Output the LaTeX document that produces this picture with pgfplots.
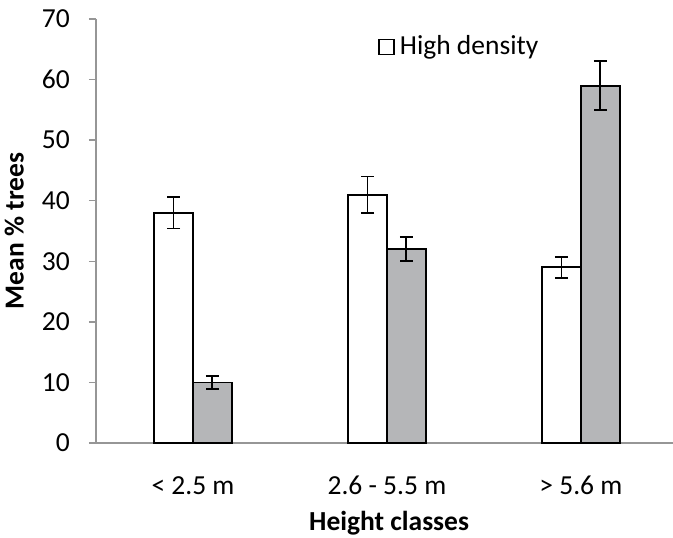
\documentclass[border=0pt]{standalone}
\usepackage{fontspec}
\setmainfont{Carlito}
\usepackage{pgfplots}
\pgfplotsset{compat=1.18}
\definecolor{axgray}{RGB}{150,150,150}
\definecolor{bargray}{RGB}{181,182,184}
\begin{document}
\fontsize{27.5}{33}\selectfont
\begin{tikzpicture}
\begin{axis}[
 scale only axis, width=577pt, height=424pt,
 xmin=-0.5, xmax=2.475, ymin=0, ymax=70,
 axis x line*=bottom, axis y line*=left,
 axis line style={axgray, line width=1.5pt, -},
 ytick={0,10,...,70}, xtick={0,1,2},
 xticklabels={{< 2.5 m},{2.6 - 5.5 m},{> 5.6 m}},
 x tick style={draw=none}, y tick style={axgray, line width=1.5pt},
 tick align=outside, major tick length=7pt,
 /pgf/number format/assume math mode=true,
 ticklabel style={font=\fontsize{27.5}{33}\selectfont},
 yticklabel style={anchor=east, inner sep=0pt, xshift=-19pt},
 xticklabel style={anchor=base, inner sep=0pt, yshift=-45pt},
 xlabel={Height classes}, ylabel={Mean \% trees},
 label style={font=\fontsize{27.5}{33}\selectfont\bfseries},
 xlabel style={at={(axis description cs:0.508,-0.2052)}, anchor=base, inner sep=0pt},
 ylabel style={at={(axis description cs:-0.1255,0.5)}, anchor=base, inner sep=0pt},
 legend style={at={(axis description cs:0.489,0.934)}, anchor=west, draw=none, fill=none,
   font=\fontsize{27.5}{33}\selectfont, inner sep=0pt},
 clip=false,
]
\addplot[ybar, bar width=0.2, bar shift=0, fill=white, draw=black, line width=1.8pt,
  legend image code/.code={\draw[black, line width=1.2pt, fill=white] (0pt,-7.5pt) rectangle (15pt,7.5pt); \path[draw=none, fill=none] (15pt,0pt) -- (19pt,0pt);},
  error bars/.cd, y dir=both, y explicit,
  error bar style={black, line width=1.8pt},
  error mark options={black, line width=1.8pt, mark size=6.5pt, rotate=90}]
  coordinates {(-0.1,38) +- (0,2.6) (0.9,41) +- (0,3.0) (1.9,29) +- (0,1.7)};
\addlegendentry{High density}
\addplot[ybar, bar width=0.2, bar shift=0, fill=bargray, draw=black, line width=1.8pt, forget plot,
  error bars/.cd, y dir=both, y explicit,
  error bar style={black, line width=1.8pt},
  error mark options={black, line width=1.8pt, mark size=6.5pt, rotate=90}]
  coordinates {(0.1,10) +- (0,1.1) (1.1,32) +- (0,2.0) (2.1,59) +- (0,4.0)};
\coordinate (O) at (rel axis cs:0,0);
\end{axis}
\pgfresetboundingbox
\path (O) ++(-96pt,-95pt) rectangle ++(673pt,538pt);
\end{tikzpicture}
\end{document}
